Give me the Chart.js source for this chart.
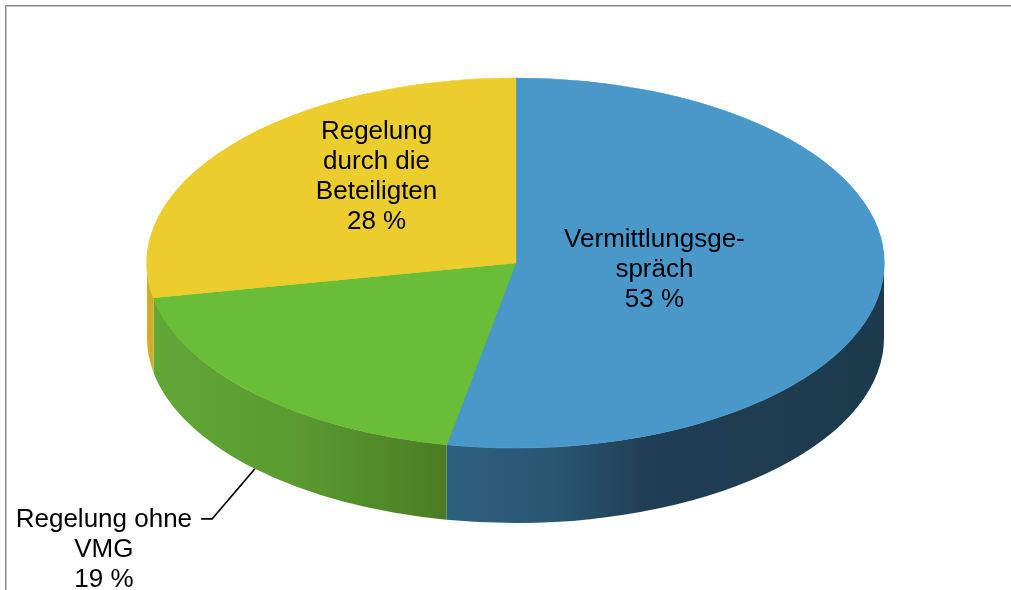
<!DOCTYPE html>
<html><head><meta charset="utf-8">
<script src="https://cdn.jsdelivr.net/npm/chart.js@4.4.1/dist/chart.umd.min.js"></script>
<style>html,body{margin:0;padding:0;background:#fff;overflow:hidden}canvas{display:block}</style>
</head><body>
<canvas id="c" width="1011" height="590"></canvas>
<script>
// ---- data ----
const categories = ['Vermittlungsgespräch', 'Regelung ohne VMG', 'Regelung durch die Beteiligten'];
const values = [53, 19, 28];
const labelLines = [['Vermittlungsge-', 'spräch'], ['Regelung ohne', 'VMG'], ['Regelung', 'durch die', 'Beteiligten']];

// ---- styles ----
const topColors = ['#4A98C9', '#6ABD36', '#ECCD2E'];
const sideStops = [
  [[0, '#2E6080'], [0.25, '#295670'], [0.45, '#203F54'], [1, '#1D394C']],
  [[0, '#61A736'], [0.5, '#5A9A30'], [0.85, '#4F8626'], [1, '#4A7B22']],
  [[0, '#D2AC22'], [1, '#D2AC22']]
];
const geom = { cx: 515.5, cy: 263, rx: 368.5, ry: 185, depth: 75 };
// label anchor (centre x, mean baseline y) as fractions of the ellipse radii
const labelPos = [{ fx: 0.377, fy: 0.0757 }, { fx: -1.117, fy: 1.589 }, { fx: -0.377, fy: -0.427 }];
const leaderIndex = 1;
const font = '26px "Liberation Sans", Arial, sans-serif';
const lineH = 30;

const pie3d = {
  id: 'pie3d',
  beforeDraw(chart) {
    const ctx = chart.ctx;
    ctx.save();
    ctx.fillStyle = '#8a8a8a';
    ctx.fillRect(5, 5, 1006, 1);
    ctx.fillRect(5, 5, 1, 585);
    ctx.fillStyle = '#c4c4c4';
    ctx.fillRect(6, 6, 1005, 1);
    ctx.fillRect(6, 6, 1, 584);
    ctx.restore();
  },
  beforeDatasetsDraw(chart) {
    const ctx = chart.ctx;
    const meta = chart.getDatasetMeta(0);
    const g = geom;
    meta.data.forEach((arc, i) => {
      const a0 = Math.max(arc.startAngle, 0), a1 = Math.min(arc.endAngle, Math.PI);
      if (a1 <= a0) return;
      const xa = g.cx + g.rx * Math.cos(a0), xb = g.cx + g.rx * Math.cos(a1);
      const xl = Math.min(xa, xb), xr = Math.max(xa, xb);
      const grad = ctx.createLinearGradient(xl, 0, xr + 0.01, 0);
      sideStops[i].forEach(s => grad.addColorStop(s[0], s[1]));
      ctx.beginPath();
      ctx.ellipse(g.cx, g.cy, g.rx, g.ry, 0, a0, a1, false);
      ctx.ellipse(g.cx, g.cy + g.depth, g.rx, g.ry, 0, a1, a0, true);
      ctx.closePath();
      ctx.fillStyle = grad;
      ctx.fill();
    });
    const a = meta.data[0];
    ctx.save();
    ctx.translate(g.cx, g.cy);
    ctx.scale(g.rx / a.outerRadius, g.ry / a.outerRadius);
    ctx.translate(-a.x, -a.y);
  },
  afterDatasetsDraw(chart) {
    const ctx = chart.ctx;
    ctx.restore();
    const meta = chart.getDatasetMeta(0);
    const g = geom;
    ctx.save();
    ctx.font = font;
    ctx.fillStyle = '#000';
    ctx.textAlign = 'center';
    ctx.textBaseline = 'alphabetic';
    meta.data.forEach((arc, i) => {
      const lines = labelLines[i].concat([values[i] + ' %']);
      const x = g.cx + labelPos[i].fx * g.rx;
      const yMid = g.cy + labelPos[i].fy * g.ry;
      const y0 = yMid - (lines.length - 1) * lineH / 2;
      lines.forEach((t, k) => ctx.fillText(t, x, y0 + k * lineH));
      if (i === leaderIndex) {
        const w = ctx.measureText(lines[0]).width;
        const sx = x + w / 2 + 9, sy = y0 - 8;
        const mid = (arc.startAngle + arc.endAngle) / 2;
        const ex = g.cx + g.rx * Math.cos(mid);
        const ey = g.cy + g.depth + g.ry * Math.sin(mid);
        ctx.beginPath();
        ctx.moveTo(sx, sy);
        ctx.lineTo(sx + 11, sy);
        ctx.lineTo(ex, ey);
        ctx.strokeStyle = '#000';
        ctx.lineWidth = 1.7;
        ctx.stroke();
      }
    });
    ctx.restore();
  }
};

new Chart(document.getElementById('c'), {
  type: 'pie',
  data: {
    labels: categories,
    datasets: [{
      data: values,
      backgroundColor: topColors,
      borderColor: topColors,
      borderWidth: 1,
      hoverOffset: 0,
      clip: false
    }]
  },
  options: {
    responsive: false,
    animation: false,
    events: [],
    layout: { padding: 0 },
    plugins: { legend: { display: false }, tooltip: { enabled: false } }
  },
  plugins: [pie3d]
});
</script>
</body></html>
